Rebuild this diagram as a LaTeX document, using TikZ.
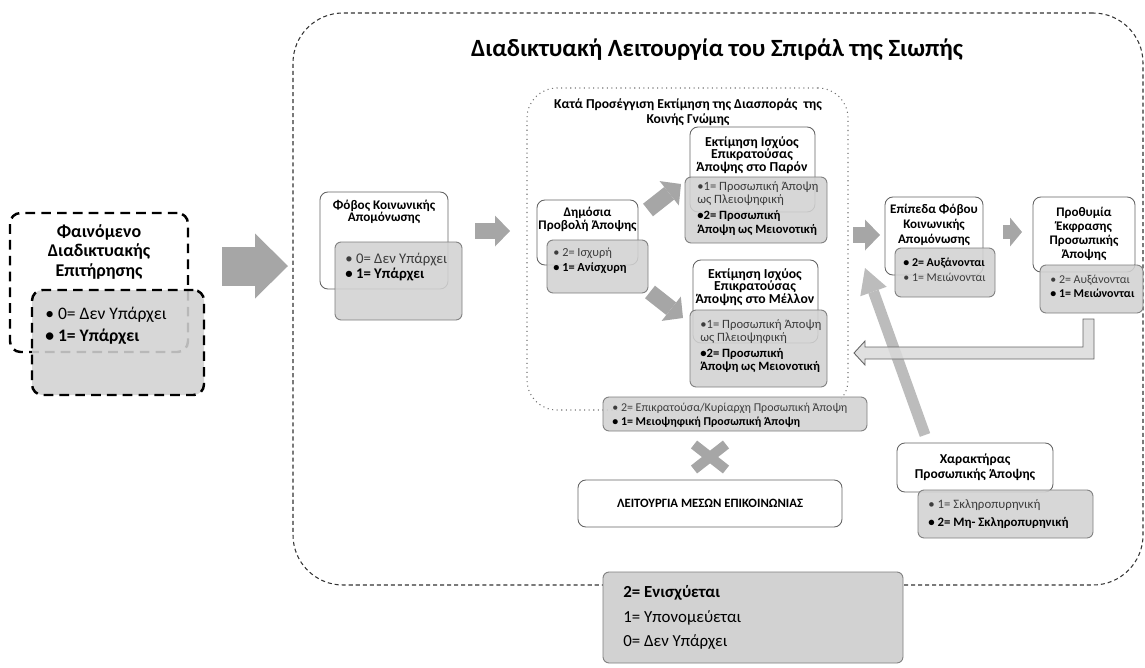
\documentclass[tikz,border=0pt]{standalone}
\usepackage{fontspec}
\setmainfont{Carlito}
\usetikzlibrary{calc, arrows.meta, shapes.misc}
\definecolor{boxgrey}{RGB}{210,210,210}
\definecolor{boxline}{RGB}{125,125,125}
\definecolor{whiteline}{RGB}{100,100,100}
\definecolor{arrowgrey}{RGB}{166,166,166}
\definecolor{diaggrey}{RGB}{188,188,188}
\definecolor{elbowgrey}{RGB}{218,218,218}
\definecolor{textgrey}{RGB}{60,60,60}

\begin{document}
\begin{tikzpicture}[
  box/.style={anchor=north west, inner sep=0, outer sep=0, rounded corners=4.5pt},
  wbox/.style={box, draw=whiteline, fill=white, line width=0.5pt},
  gbox/.style={box, draw=boxline, fill=boxgrey, fill opacity=0.88, line width=0.5pt, rounded corners=3.5pt},
  dashbox/.style={box, draw=black, line width=1.4pt, dash pattern=on 5.5pt off 3.5pt, rounded corners=6pt},
  blockarrow/.style={draw=arrowgrey, line cap=butt},
  bigtitle/.style={font=\fontsize{14.1}{16}\selectfont\bfseries, inner sep=0},
  lefttitle/.style={font=\fontsize{10.2}{11}\selectfont\bfseries, align=center, inner sep=0},
  leftbody/.style={font=\fontsize{10}{12.5}\selectfont, align=left, inner sep=0},
  boxtitle/.style={font=\fontsize{7.5}{7.2}\selectfont\bfseries, align=center, inner sep=0},
  boxbody/.style={font=\fontsize{7.2}{7.6}\selectfont, align=left, inner sep=0, text=textgrey}
]
\useasboundingbox (0,0) rectangle (22.9,-13.34);

% Surveillance phenomenon
\node[dashbox, fill=white, minimum width=3.56cm, minimum height=2.78cm] (surv) at (0.2,-4.26) {};
\node[dashbox, fill=boxgrey, fill opacity=0.88, minimum width=3.44cm, minimum height=2.1cm] (survG) at (0.64,-5.8) {};
\node[lefttitle] (survT) at (1.98,-5.04) {Φαινόμενο\\Διαδικτυακής\\Επιτήρησης};
\node[leftbody, anchor=west] (survB) at (0.9,-6.52) {• 0= Δεν Υπάρχει\\\textbf{• 1= Υπάρχει}};

\coordinate (a0) at (4.44,-5.32);
\coordinate (a1) at (5.76,-5.32);
\draw[blockarrow, line width=0.78cm, -{Triangle[width=1.3cm, length=0.66cm, line width=0pt]}] (a0) -- (a1);

% Spiral of silence frame
\node[box, draw=black!80, line width=0.6pt, dash pattern=on 2.3pt off 1.7pt, rounded corners=1cm, minimum width=17cm, minimum height=11.44cm] (spiral) at (5.86,-0.26) {};
\node[bigtitle] (spiralT) at (14.34,-1.0) {Διαδικτυακή Λειτουργία του Σπιράλ της Σιωπής};

% Fear of isolation
\node[wbox, minimum width=2.56cm, minimum height=1.94cm] (phobos) at (6.4,-3.84) {};
\node[gbox, minimum width=2.54cm, minimum height=1.56cm] (phobosG) at (6.7,-4.84) {};
\node[boxtitle] (phobosT) at (7.68,-4.24) {Φόβος Κοινωνικής\\Απομόνωσης};
\node[boxbody, anchor=west, font=\fontsize{8.4}{8.2}\selectfont] (phobosB) at (6.9,-5.34) {• 0= Δεν Υπάρχει\\\textbf{\color{black}• 1= Υπάρχει}};

\coordinate (b0) at (9.5,-4.62);
\coordinate (b1) at (10.2,-4.62);
\draw[blockarrow, line width=0.32cm, -{Triangle[width=0.62cm, length=0.3cm, line width=0pt]}] (b0) -- (b1);

% Estimation of opinion climate
\node[box, draw=black!55, line width=0.6pt, dotted, rounded corners=0.6cm, minimum width=6.42cm, minimum height=6.44cm] (est) at (10.54,-1.76) {};
\node[boxtitle, font=\fontsize{7.75}{8.5}\selectfont\bfseries] (estT) at (13.76,-2.25) {Κατά Προσέγγιση Εκτίμηση της Διασποράς\ \ της\\Κοινής Γνώμης};

\node[wbox, minimum width=2.02cm, minimum height=1.3cm] (publ) at (10.74,-4.0) {};
\node[gbox, minimum width=2.02cm, minimum height=1.06cm] (publG) at (10.94,-4.8) {};
\node[boxtitle] (publT) at (11.75,-4.39) {Δημόσια\\Προβολή Άποψης};
\node[boxbody, anchor=west, font=\fontsize{7}{8.4}\selectfont] (publB) at (11.06,-5.21) {• 2= Ισχυρή\\\textbf{\color{black}• 1= Ανίσχυρη}};

\node[wbox, minimum width=2.5cm, minimum height=1.7cm] (pres) at (13.8,-2.54) {};
\node[gbox, minimum width=2.84cm, minimum height=1.32cm] (presG) at (13.7,-3.54) {};
\node[boxtitle, font=\fontsize{7.8}{7.2}\selectfont\bfseries] (presT) at (15.04,-3.1) {Εκτίμηση Ισχύος\\Επικρατούσας\\Άποψης στο Παρόν};
\node[boxbody, anchor=west] (presB) at (13.94,-4.17) {•1= Προσωπική Άποψη\\ως Πλειοψηφική\\[1.5pt]\textbf{\color{black}•2= Προσωπική}\\\textbf{\color{black}Άποψη ως Μειονοτική}};

\node[wbox, minimum width=2.5cm, minimum height=1.66cm] (fut) at (13.86,-5.2) {};
\node[gbox, minimum width=2.74cm, minimum height=1.54cm] (futG) at (13.8,-6.2) {};
\node[boxtitle, font=\fontsize{7.8}{7.2}\selectfont\bfseries] (futT) at (15.1,-5.74) {Εκτίμηση Ισχύος\\Επικρατούσας\\Άποψης στο Μέλλον};
\node[boxbody, anchor=west] (futB) at (14.0,-6.92) {•1= Προσωπική Άποψη\\ως Πλειοψηφική\\[1.5pt]\textbf{\color{black}•2= Προσωπική}\\\textbf{\color{black}Άποψη ως Μειονοτική}};

\coordinate (c0) at (12.96,-4.2);
\coordinate (c1) at (13.62,-3.68);
\draw[blockarrow, line width=0.32cm, -{Triangle[width=0.62cm, length=0.3cm, line width=0pt]}] (c0) -- (c1);
\coordinate (d0) at (13.0,-5.84);
\coordinate (d1) at (13.66,-6.36);
\draw[blockarrow, line width=0.32cm, -{Triangle[width=0.62cm, length=0.3cm, line width=0pt]}] (d0) -- (d1);

\node[gbox, minimum width=5.28cm, minimum height=0.68cm] (maj) at (12.06,-7.94) {};
\node[boxbody, anchor=west, font=\fontsize{6.8}{7.8}\selectfont] (majB) at (12.24,-8.3) {• 2= Επικρατούσα/Κυρίαρχη Προσωπική Άποψη\\\textbf{\color{black}• 1= Μειοψηφική Προσωπική Άποψη}};

% Media
\node[cross out, draw=arrowgrey, line width=0.2cm, minimum width=0.44cm, minimum height=0.3cm, inner sep=0] (cross) at (14.2,-9.14) {};
\node[wbox, minimum width=5.28cm, minimum height=0.94cm, font=\fontsize{7.25}{8}\selectfont\bfseries] (media) at (11.56,-9.6) {ΛΕΙΤΟΥΡΓΙΑ ΜΕΣΩΝ ΕΠΙΚΟΙΝΩΝΙΑΣ};

% Fear levels and willingness
\coordinate (e0) at (17.06,-4.7);
\coordinate (e1) at (17.6,-4.7);
\draw[blockarrow, line width=0.32cm, -{Triangle[width=0.62cm, length=0.3cm, line width=0pt]}] (e0) -- (e1);

\node[wbox, minimum width=1.96cm, minimum height=1.56cm] (lvl) at (17.7,-3.94) {};
\node[gbox, minimum width=2.0cm, minimum height=0.98cm] (lvlG) at (17.9,-4.96) {};
\node[boxtitle, font=\fontsize{7.45}{8.4}\selectfont\bfseries] (lvlT) at (18.68,-4.5) {Επίπεδα Φόβου\\Κοινωνικής\\Απομόνωσης};
\node[boxbody, anchor=west, font=\fontsize{6.8}{8.4}\selectfont] (lvlB) at (18.06,-5.39) {\textbf{\color{black}• 2= Αυξάνονται}\\• 1= Μειώνονται};

\coordinate (f0) at (20.06,-4.64);
\coordinate (f1) at (20.44,-4.64);
\draw[blockarrow, line width=0.28cm, -{Triangle[width=0.58cm, length=0.24cm, line width=0pt]}] (f0) -- (f1);

\node[wbox, minimum width=2.04cm, minimum height=1.5cm] (proth) at (20.66,-3.94) {};
\node[gbox, minimum width=2.06cm, minimum height=0.96cm] (prothG) at (20.8,-5.3) {};
\node[boxtitle, font=\fontsize{7.45}{8}\selectfont\bfseries] (prothT) at (21.68,-4.68) {Προθυμία\\Έκφρασης\\Προσωπικής\\Άποψης};
\node[boxbody, anchor=west, font=\fontsize{6.8}{7.6}\selectfont] (prothB) at (21.0,-5.73) {• 2= Αυξάνονται\\\textbf{\color{black}• 1= Μειώνονται}};

% Character of opinion
\node[wbox, minimum width=3.12cm, minimum height=0.98cm] (char) at (17.94,-8.86) {};
\node[gbox, minimum width=3.5cm, minimum height=0.96cm] (charG) at (18.36,-9.8) {};
\node[boxtitle, font=\fontsize{7.7}{8.5}\selectfont\bfseries] (charT) at (19.5,-9.35) {Χαρακτήρας\\Προσωπικής Άποψης};
\node[boxbody, anchor=west, font=\fontsize{7.3}{10}\selectfont] (charB) at (18.56,-10.28) {• 1= Σκληροπυρηνική\\\textbf{\color{black}• 2= Μη- Σκληροπυρηνική}};

\draw[draw=diaggrey, line width=0.22cm, -{Triangle[width=0.56cm, length=0.5cm, line width=0pt]}] ([xshift=-1.0cm, yshift=0.16cm]char.north) -- ([xshift=-0.4cm, yshift=0.14cm]lvl.south west);

% Feedback
\draw[draw=black!60, fill=elbowgrey, fill opacity=0.85, line width=0.5pt] ([xshift=-0.17cm, yshift=-0.12cm]prothG.south) -- ++(0.22,0) -- ++(0,-0.8) -- ++(-4.58,0) -- ++(0,-0.12) -- ++(-0.22,0.24) -- ++(0.22,0.24) -- ++(0,-0.12) -- ++(4.36,0) -- cycle;

% Effect
\node[gbox, fill opacity=1, minimum width=6.0cm, minimum height=1.82cm] (eff) at (12.06,-11.44) {};
\node[leftbody, font=\fontsize{9.6}{13.9}\selectfont, anchor=west] (effB) at (12.46,-12.35) {\textbf{2= Ενισχύεται}\\1= Υπονομεύεται\\0= Δεν Υπάρχει};
\end{tikzpicture}
\end{document}
